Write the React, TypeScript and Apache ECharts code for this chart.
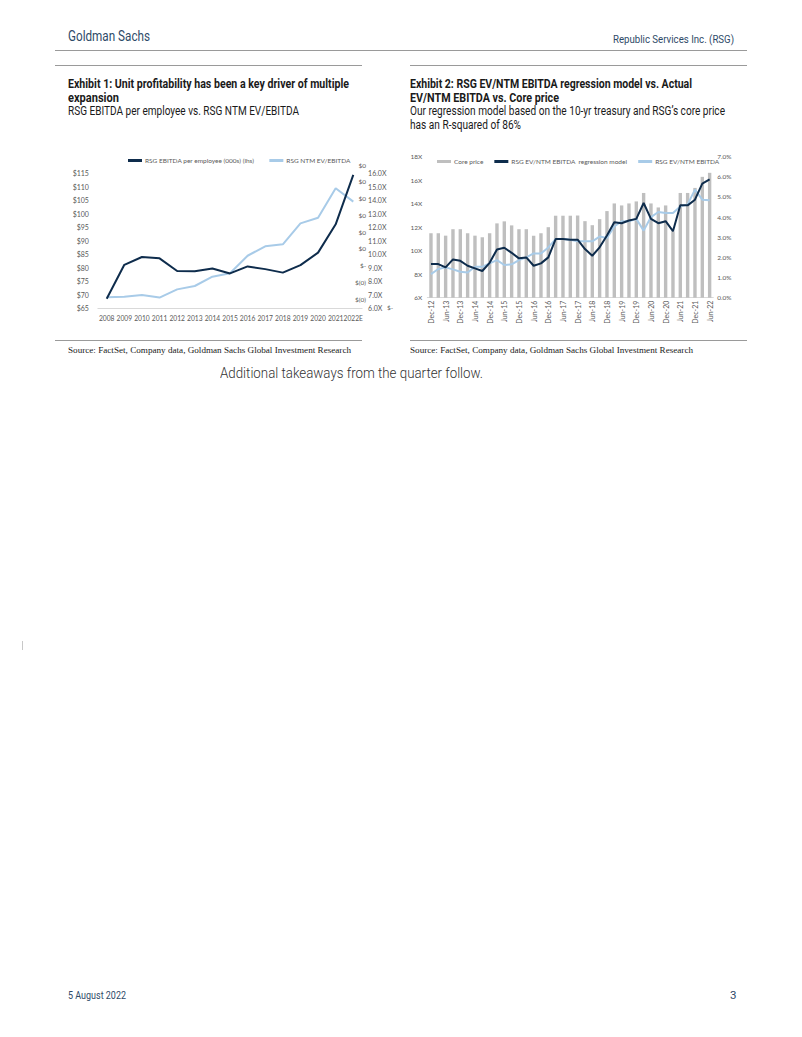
import React, { useEffect, useLayoutEffect, useRef } from "react";
import * as echarts from "echarts";

// ---------- Exhibit 1 data ----------
const years1 = ["2008", "2009", "2010", "2011", "2012", "2013", "2014", "2015", "2016", "2017", "2018", "2019", "2020", "2021", "2022E"];
const ebitdaPerEmployee = [68.4, 81.0, 83.9, 83.4, 78.7, 78.6, 79.6, 77.8, 80.4, 79.4, 78.1, 80.9, 85.5, 96.0, 114.3];
const ntmEvEbitda = [6.8, 6.84, 6.96, 6.77, 7.38, 7.63, 8.32, 8.57, 9.87, 10.57, 10.72, 12.27, 12.69, 14.87, 13.88];
const strayLabels1 = ["$(0)", "$(0)", "$-", "$0", "$0", "$0", "$0", "$0", "$0"];

// ---------- Exhibit 2 data ----------
const quarters2 = [
  "Dec-12", "Mar-13", "Jun-13", "Sep-13", "Dec-13", "Mar-14", "Jun-14", "Sep-14",
  "Dec-14", "Mar-15", "Jun-15", "Sep-15", "Dec-15", "Mar-16", "Jun-16", "Sep-16",
  "Dec-16", "Mar-17", "Jun-17", "Sep-17", "Dec-17", "Mar-18", "Jun-18", "Sep-18",
  "Dec-18", "Mar-19", "Jun-19", "Sep-19", "Dec-19", "Mar-20", "Jun-20", "Sep-20",
  "Dec-20", "Mar-21", "Jun-21", "Sep-21", "Dec-21", "Mar-22", "Jun-22",
];
const corePrice = [
  3.2, 3.2, 3.08, 3.4, 3.4, 3.2, 3.08, 3.0,
  3.2, 3.69, 3.79, 3.59, 3.4, 3.4, 3.08, 3.2,
  3.5, 4.07, 4.07, 4.07, 4.08, 3.8, 3.6, 3.9,
  4.3, 4.68, 4.58, 4.68, 4.78, 5.2, 4.68, 4.48,
  4.58, 3.3, 5.2, 5.2, 5.45, 6.0, 6.2,
];
const regressionModel = [
  8.86, 8.86, 8.58, 9.26, 9.14, 8.72, 8.5, 8.27,
  8.97, 10.11, 10.25, 9.82, 9.35, 9.43, 8.72, 8.92,
  9.43, 10.99, 10.99, 10.94, 10.94, 10.14, 9.57, 10.29,
  11.29, 12.43, 12.34, 12.57, 12.71, 14.06, 12.71, 12.34,
  12.51, 11.66, 13.86, 13.86, 14.34, 15.71, 16.06,
];
const actualMultiple = [
  8.01, 8.44, 8.58, 8.41, 8.21, 8.15, 8.63, 8.63,
  8.92, 9.2, 8.78, 8.84, 9.2, 9.43, 9.77, 9.77,
  10.28, 10.99, 10.99, 10.94, 10.8, 10.8, 10.8, 11.2,
  11.09, 12.06, 12.51, 12.51, 12.71, 11.71, 12.86, 13.29,
  13.2, 13.2, 13.77, 13.94, 15.2, 14.34, 14.29,
];

const NAVY = "#0E2C4C";
const LIGHT = "#A8CBE8";
const GREY = "#BFBFBF";
const TICK = "#595959";
const CHART_FONT = "Lato, 'Open Sans', sans-serif";
const NARROW = "Roboto, 'Noto Sans', sans-serif";
const SERIF = "'Liberation Serif', 'DejaVu Serif', serif";

function useChart(build: () => any) {
  const ref = useRef<HTMLDivElement>(null);
  useEffect(() => {
    if (!ref.current) return;
    const chart = echarts.init(ref.current, null, { renderer: "svg" });
    chart.setOption(build());
    return () => chart.dispose();
  }, []);
  return ref;
}

function Chart1() {
  const ref = useChart(() => ({
    animation: false,
    textStyle: { fontFamily: CHART_FONT },
    legend: {
      left: 68,
      top: 7,
      itemWidth: 14,
      itemHeight: 3,
      itemGap: 15,
      icon: "rect",
      textStyle: { fontSize: 6.5, color: TICK, fontFamily: CHART_FONT, padding: [0, 0, 0, -2] },
      data: ["RSG EBITDA per employee (000s) (lhs)", "RSG NTM EV/EBITDA"],
    },
    grid: [
      { left: 42.9, width: 264.2, top: 28, height: 135 },
      { left: 42.9, width: 264.2, top: 20, height: 134 },
    ],
    xAxis: [
      {
        type: "category",
        gridIndex: 0,
        data: years1,
        boundaryGap: true,
        axisLine: { lineStyle: { color: "#D9D9D9", width: 1 } },
        axisTick: { show: false },
        axisLabel: { fontSize: 6.7, color: TICK, margin: 6, interval: 0 },
      },
      { type: "category", gridIndex: 1, data: years1, show: false },
    ],
    yAxis: [
      {
        type: "value",
        gridIndex: 0,
        min: 65,
        max: 115,
        interval: 5,
        splitLine: { show: false },
        axisLine: { show: false },
        axisTick: { show: false },
        axisLabel: { fontSize: 7, color: TICK, margin: 9, formatter: (v: number) => "$" + v },
      },
      {
        type: "value",
        gridIndex: 0,
        position: "right",
        min: 6,
        max: 16,
        interval: 1,
        splitLine: { show: false },
        axisLine: { show: false },
        axisTick: { show: false },
        axisLabel: { fontSize: 7, color: TICK, margin: 6, formatter: (v: number) => v.toFixed(1) + "X" },
      },
      {
        type: "value",
        gridIndex: 1,
        position: "right",
        min: 0,
        max: 8,
        interval: 1,
        splitLine: { show: false },
        axisLine: { show: false },
        axisTick: { show: false },
        axisLabel: {
          fontSize: 6.5,
          color: TICK,
          margin: 4,
          align: "right",
          formatter: (v: number) => strayLabels1[Math.round(v)] ?? "",
        },
      },
    ],
    graphic: [
      { type: "text", left: 332, top: 159, style: { text: "$-", fontSize: 6.5, fill: TICK, fontFamily: CHART_FONT } },
    ],
    series: [
      {
        name: "RSG EBITDA per employee (000s) (lhs)",
        type: "line",
        xAxisIndex: 0,
        yAxisIndex: 0,
        data: ebitdaPerEmployee,
        symbol: "none",
        lineStyle: { color: NAVY, width: 2 },
        itemStyle: { color: NAVY },
        z: 3,
      },
      {
        name: "RSG NTM EV/EBITDA",
        type: "line",
        xAxisIndex: 0,
        yAxisIndex: 1,
        data: ntmEvEbitda,
        symbol: "none",
        lineStyle: { color: LIGHT, width: 2 },
        itemStyle: { color: LIGHT },
        z: 2,
      },
    ],
  }));
  return <div ref={ref} style={{ position: "absolute", left: 55, top: 145, width: 345, height: 190 }} />;
}

function Chart2() {
  const ref = useChart(() => ({
    animation: false,
    textStyle: { fontFamily: CHART_FONT },
    legend: {
      left: 27,
      top: 8,
      itemWidth: 14,
      itemHeight: 3,
      itemGap: 11,
      icon: "rect",
      textStyle: { fontSize: 6.5, color: TICK, fontFamily: CHART_FONT, padding: [0, 0, 0, -2] },
      data: ["Core price", "RSG EV/NTM EBITDA  regression model", "RSG EV/NTM EBITDA"],
    },
    grid: { left: 22.3, width: 286, top: 11.7, height: 141 },
    xAxis: {
      type: "category",
      data: quarters2,
      boundaryGap: true,
      axisLine: { lineStyle: { color: "#D9D9D9", width: 1 } },
      axisTick: { show: false },
      axisLabel: { fontSize: 7, color: TICK, margin: 3, rotate: 90, interval: 1 },
    },
    yAxis: [
      {
        type: "value",
        min: 6,
        max: 18,
        interval: 2,
        splitLine: { show: false },
        axisLine: { show: false },
        axisTick: { show: false },
        axisLabel: { fontSize: 6.5, color: TICK, margin: 5, formatter: (v: number) => v + "X" },
      },
      {
        type: "value",
        position: "right",
        min: 0,
        max: 7,
        interval: 1,
        splitLine: { show: false },
        axisLine: { show: false },
        axisTick: { show: false },
        axisLabel: { fontSize: 6.5, color: TICK, margin: 4, formatter: (v: number) => v.toFixed(1) + "%" },
      },
    ],
    series: [
      {
        name: "Core price",
        type: "bar",
        yAxisIndex: 1,
        data: corePrice,
        barWidth: 3.4,
        itemStyle: { color: GREY },
        z: 1,
      },
      {
        name: "RSG EV/NTM EBITDA  regression model",
        type: "line",
        yAxisIndex: 0,
        data: regressionModel,
        symbol: "none",
        lineStyle: { color: NAVY, width: 2 },
        itemStyle: { color: NAVY },
        z: 3,
      },
      {
        name: "RSG EV/NTM EBITDA",
        type: "line",
        yAxisIndex: 0,
        data: actualMultiple,
        symbol: "none",
        lineStyle: { color: LIGHT, width: 2 },
        itemStyle: { color: LIGHT },
        z: 2,
      },
    ],
  }));
  return <div ref={ref} style={{ position: "absolute", left: 405, top: 145, width: 340, height: 195 }} />;
}

// Text squeezed horizontally to the width measured on the reference page
function Fit(props: { left: number; top: number; width: number; style?: React.CSSProperties; children: React.ReactNode }) {
  const ref = useRef<HTMLDivElement>(null);
  useLayoutEffect(() => {
    const el = ref.current;
    if (!el) return;
    const apply = () => {
      el.style.transform = "none";
      const w = el.getBoundingClientRect().width;
      if (w > 0) el.style.transform = `scaleX(${props.width / w})`;
    };
    apply();
    if ((document as any).fonts?.ready) (document as any).fonts.ready.then(apply);
  }, []);
  return (
    <div
      ref={ref}
      style={{
        position: "absolute",
        left: props.left,
        top: props.top,
        display: "inline-block",
        whiteSpace: "nowrap",
        lineHeight: 1,
        transformOrigin: "0 0",
        ...props.style,
      }}
    >
      {props.children}
    </div>
  );
}

const rule = (left: number, top: number, width: number, color = "#9A9A9A"): React.CSSProperties => ({
  position: "absolute",
  left,
  top,
  width,
  height: 1,
  background: color,
});

const head: React.CSSProperties = { fontFamily: NARROW, color: "#2E4A68" };
const title: React.CSSProperties = { fontFamily: NARROW, fontSize: 12.5, fontWeight: 700, color: "#1A1A1A" };
const sub: React.CSSProperties = { fontFamily: NARROW, fontSize: 12, color: "#1A1A1A" };
const src: React.CSSProperties = { fontFamily: SERIF, fontSize: 9, color: "#1A1A1A" };

export default function App() {
  return (
    <div style={{ position: "absolute", left: 0, top: 0, width: 802, height: 1037, background: "#fff", overflow: "hidden" }}>
      <Fit left={68} top={29} width={82} style={{ ...head, fontSize: 14 }}>Goldman Sachs</Fit>
      <Fit left={613} top={34} width={121} style={{ ...head, fontSize: 11.5 }}>Republic Services Inc. (RSG)</Fit>
      <div style={rule(55, 50, 692)} />

      <div style={rule(55, 65, 307)} />
      <div style={rule(410, 65, 337)} />

      <Fit left={68} top={78} width={281} style={title}>Exhibit 1: Unit profitability has been a key driver of multiple</Fit>
      <Fit left={68} top={92} width={51} style={title}>expansion</Fit>
      <Fit left={68} top={105} width={231} style={sub}>RSG EBITDA per employee vs. RSG NTM EV/EBITDA</Fit>

      <Fit left={410} top={78} width={282} style={title}>Exhibit 2: RSG EV/NTM EBITDA regression model vs. Actual</Fit>
      <Fit left={410} top={92} width={149} style={title}>EV/NTM EBITDA vs. Core price</Fit>
      <Fit left={410} top={105} width={315} style={sub}>Our regression model based on the 10-yr treasury and RSG’s core price</Fit>
      <Fit left={410} top={119} width={111} style={sub}>has an R-squared of 86%</Fit>

      <Chart1 />
      <Chart2 />

      <div style={rule(55, 340, 307)} />
      <div style={rule(410, 340, 337)} />
      <Fit left={68} top={346} width={283} style={src}>Source: FactSet, Company data, Goldman Sachs Global Investment Research</Fit>
      <Fit left={410} top={346} width={283} style={src}>Source: FactSet, Company data, Goldman Sachs Global Investment Research</Fit>

      <Fit left={220} top={366} width={263} style={{ fontFamily: "Roboto, 'Noto Sans', sans-serif", fontWeight: 300, fontSize: 14, color: "#333" }}>
        Additional takeaways from the quarter follow.
      </Fit>

      <div style={{ position: "absolute", left: 22, top: 641, width: 1, height: 9, background: "#C8C8C8" }} />

      <Fit left={68} top={990} width={58} style={{ ...head, fontSize: 11.5 }}>5 August 2022</Fit>
      <div style={{ position: "absolute", left: 730, top: 990, lineHeight: 1, fontFamily: NARROW, fontSize: 11.5, color: "#2E4A68" }}>3</div>
    </div>
  );
}
